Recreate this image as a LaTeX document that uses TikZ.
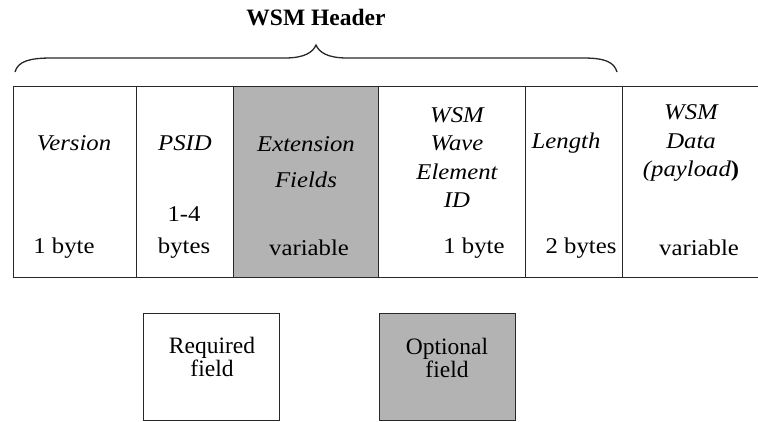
\documentclass[tikz,border=0pt]{standalone}
\usepackage{fontspec}
\setmainfont{Liberation Serif}
\newfontfamily\widefont[FakeStretch=1.1]{Liberation Serif}
\definecolor{optgray}{RGB}{179,179,179}
\definecolor{linegray}{RGB}{40,40,40}
\begin{document}
\begin{tikzpicture}[x=1pt,y=-1pt,
  cell/.style={draw=linegray,line width=1.3pt,rectangle,anchor=north west,inner sep=0pt,minimum height=191pt},
  lbl/.style={inner sep=0pt,align=center,font=\widefont\fontsize{22.5}{28.5}\selectfont\itshape},
  sz/.style={inner sep=0pt,align=center,font=\widefont\fontsize{22.5}{32}\selectfont},
  legbox/.style={draw=linegray,line width=1.3pt,rectangle,anchor=north west,inner sep=0pt,minimum height=107pt,minimum width=136pt},
  legtxt/.style={inner sep=0pt,align=center,font=\fontsize{23.5}{23}\selectfont}]
\useasboundingbox (0,0) rectangle (758,422);
\begin{scope}
\clip (0,0) rectangle (758,422);
% cells
\node[cell,minimum width=123pt] (c1) at (13,86) {};
\node[cell,minimum width=97pt] (c2) at (136,86) {};
\node[cell,minimum width=145pt,fill=optgray] (c3) at (233,86) {};
\node[cell,minimum width=147pt] (c4) at (378,86) {};
\node[cell,minimum width=97pt] (c5) at (525,86) {};
\node[cell,minimum width=150pt] (c6) at (622,86) {};
\end{scope}
% labels
\node[lbl] (t1) at (74,143) {Version};
\node[sz] (s1) at (64,248) {1 byte};
\node[lbl] (t2) at (185,143) {PSID};
\node[sz] (s2) at (184,233) {1-4\\bytes};
\node[lbl] (t3) at (306,162) {Extension\\[7.5pt]Fields};
\node[sz] (s3) at (309,248) {variable};
\node[lbl] (t4) at (457,157.5) {WSM\\Wave\\Element\\ID};
\node[sz] (s4) at (474,248) {1 byte};
\node[lbl] (t5) at (566,143) {Length};
\node[sz] (s5) at (581,248) {2 bytes};
\node[lbl] (t6) at (691,143) {WSM\\Data\\(payload{\upshape\bfseries )}};
\node[sz] (s6) at (699,248) {variable};
% brace and title
\node[inner sep=0pt,font=\fontsize{23.5}{24}\selectfont\bfseries] (title) at (316,18) {WSM Header};
\coordinate (bl) at (15,72);
\coordinate (bt) at (316,45);
\coordinate (br) at (617,72);
\draw[linegray,line width=1.3pt] (bl) .. controls (18,61) and (30,58) .. (52,58) -- (285,58)
  .. controls (305,58) and (313,52) .. (bt)
  .. controls (319,52) and (327,58) .. (347,58) -- (583,58)
  .. controls (605,58) and (614,62) .. (br);
% legend
\node[legbox] (req) at (143,313) {};
\node[legtxt] (reqt) at (212,357) {Required\\field};
\node[legbox,fill=optgray] (opt) at (379,313) {};
\node[legtxt] (optt) at (447,358) {Optional\\field};
\end{tikzpicture}
\end{document}
